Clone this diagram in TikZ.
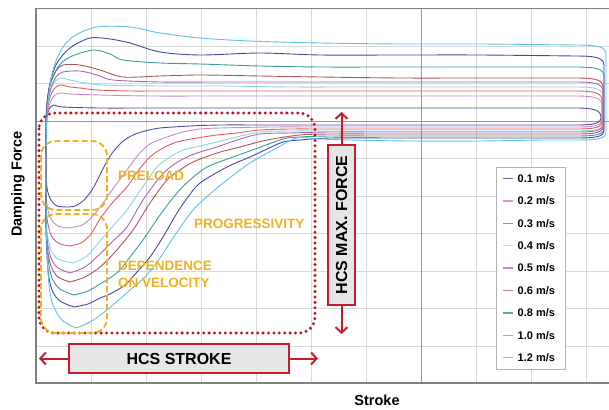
\documentclass[tikz,border=0pt]{standalone}
\usepackage{fontspec}
\setmainfont{Liberation Sans}
\usetikzlibrary{arrows.meta}
\definecolor{zred}{HTML}{C41E2C}
\definecolor{zdot}{HTML}{C0101E}
\definecolor{zyel}{HTML}{F2B020}
\definecolor{boxgray}{HTML}{E6E6E6}
\definecolor{c01}{HTML}{4E4EA2}
\definecolor{c02}{HTML}{C88AC8}
\definecolor{c03}{HTML}{E85A5C}
\definecolor{c04}{HTML}{8CD4E0}
\definecolor{c05}{HTML}{A865B8}
\definecolor{c06}{HTML}{B05458}
\definecolor{c08}{HTML}{3A9C9A}
\definecolor{c10}{HTML}{4848A0}
\definecolor{c12}{HTML}{5CC2E8}
\definecolor{l01}{HTML}{6464B4}
\definecolor{l02}{HTML}{D496D4}
\definecolor{l03}{HTML}{F07474}
\definecolor{l04}{HTML}{B4E2EA}
\definecolor{l05}{HTML}{C888D4}
\definecolor{l06}{HTML}{D47C7C}
\definecolor{l08}{HTML}{5AAAAA}
\definecolor{l10}{HTML}{A4A4DC}
\definecolor{l12}{HTML}{74CCEC}
\tikzset{
  gridline/.style={draw=black!15, line width=0.6pt},
  majorline/.style={draw=black!40, line width=1pt},
  framepen/.style={draw=black!50, line width=1.3pt},
  curve/.style={line width=0.9pt, line join=round},
  redzone/.style={draw=zdot, line width=3.3pt, line cap=round, dash pattern=on 0pt off 5.4pt, rounded corners=16pt},
  yelzone/.style={draw=zyel, line width=1.9pt, dash pattern=on 6pt off 3pt, rounded corners=15pt},
  yeltext/.style={text=zyel, font=\bfseries\fontsize{13.5}{17}\selectfont, align=left, inner sep=0pt},
  hcsbox/.style={draw=zred, fill=boxgray, line width=2pt, inner sep=0pt, font=\bfseries\fontsize{16}{18}\selectfont},
  hcsarrow/.style={draw=zred, line width=2pt, -{Straight Barb[length=5.5pt,width=12pt]}},
  legtext/.style={anchor=west, font=\bfseries\fontsize{11}{12}\selectfont, inner sep=0pt},
  axislabel/.style={font=\bfseries\fontsize{14.5}{16}\selectfont, inner sep=0pt},
}
% #1 colour, #2 upper points (min ... (575,yt)), #3 yt, #4 yb, #5 x of right drop, #6 lower points (... min)
\newcommand{\loopcurve}[6]{%
  \draw[curve,#1] plot[smooth,tension=0.5] coordinates {#2}
    .. controls ({#5-6},#3) and (#5,{#3+2}) .. (#5,{#3+10})
    -- (#5,{#4-8}) .. controls (#5,{#4-1}) and ({#5-8},#4) .. (575,#4)
    -- plot[smooth,tension=0.5] coordinates {#6};}
\begin{document}
\begin{tikzpicture}[x=1pt,y=-1pt]
\useasboundingbox (0,0) rectangle (609,409);
% grid
\foreach \gx in {91,146,201,256,311,366,476,531,586}
  \draw[gridline] (\gx,8.5) -- (\gx,383);
\foreach \gy in {46,83.5,158.5,196,233.5,271,308.5,346}
  \draw[gridline] (36,\gy) -- (609,\gy);
\draw[majorline] (421,8.5) -- (421,383);
\draw[majorline] (36,121) -- (609,121);
\draw[framepen] (609,8.5) -- (36,8.5) -- (36,383) -- (609,383);
% curves
\loopcurve{c01}{(68,207) (57,206) (51,200) (47,188) (46,165) (46,140) (47,118) (49,109) (54,105) (62,107) (100,108) (150,108) (220,108) (290,108) (360,108) (440,108) (510,108) (575,108)}{108}{125}{601}
 {(540,125) (470,125) (400,125) (330,125) (270,125) (220,125) (190,126) (160,128) (145,131) (133,135) (122,142) (113,152) (106,163) (100,175) (92,190) (83,201) (75,206) (68,207)}
\loopcurve{c02}{(69,228) (58,226) (51,219) (47,205) (46,180) (46,150) (46,125) (47,115) (50,103) (54,96) (60,93) (70,94) (100,95) (150,96) (220,96) (290,96) (360,96) (440,96) (510,96) (575,96)}{96}{127}{602}
 {(540,127) (470,127) (400,127) (330,127) (270,127) (220,128) (200,129) (183,132) (167,137) (150,144) (138,155) (127,170) (115,186) (103,203) (92,217) (82,225) (69,228)}
\loopcurve{c03}{(69,246) (58,243) (51,235) (47,218) (46,190) (46,150) (46,125) (47,112) (50,97) (54,89) (60,85) (70,87) (80,88) (97,90) (130,91) (160,91) (220,91) (290,91) (360,91) (440,91) (510,91) (575,91)}{91}{129}{602}
 {(540,129) (470,129) (400,129) (330,129) (290,129) (260,130) (237,133) (217,135) (197,138) (177,142) (163,148) (150,157) (138,171) (127,187) (113,202) (100,219) (91,234) (81,243) (69,246)}
\loopcurve{c04}{(73,263) (58,259) (51,250) (47,232) (46,200) (46,160) (46,125) (47,110) (50,92) (54,83) (60,78) (70,80) (80,82) (103,85) (160,86) (220,86) (290,87) (360,87) (440,87) (510,87) (575,87)}{87}{131}{603}
 {(540,131) (470,131) (400,131) (330,131) (290,131) (260,132) (237,137) (217,142) (200,146) (183,150) (170,157) (157,167) (142,188) (127,210) (113,226) (100,241) (87,256) (73,263)}
\loopcurve{c05}{(70,273) (58,268) (51,258) (47,238) (46,205) (46,160) (46,125) (47,105) (51,88) (56,77) (63,72) (80,71) (97,75) (113,80) (160,82) (220,82) (290,82) (360,82) (440,82) (510,82) (575,82)}{82}{132}{603}
 {(540,132) (470,132) (400,132) (330,132) (290,133) (260,134) (237,140) (217,147) (200,152) (187,157) (173,165) (160,177) (143,200) (127,227) (113,241) (100,254) (85,267) (70,273)}
\loopcurve{c06}{(70,282) (58,277) (51,266) (47,245) (46,210) (46,160) (46,125) (47,105) (50,85) (56,71) (63,65) (80,65) (100,70) (123,77) (160,76) (200,75) (260,76) (320,77) (400,78) (480,78) (575,78)}{78}{134}{603}
 {(540,134) (470,134) (400,134) (330,134) (300,135) (267,140) (240,147) (217,153) (193,162) (180,170) (167,180) (150,203) (133,230) (115,252) (100,267) (85,277) (70,282)}
\loopcurve{c08}{(74,295) (60,289) (52,278) (48,258) (46,220) (46,170) (46,130) (47,105) (50,85) (58,67) (70,57) (93,50) (110,54) (123,60) (160,63) (200,64) (260,66) (320,67) (400,67) (480,67) (575,67)}{67}{136}{604}
 {(540,136) (470,136) (400,136) (330,136) (300,137) (283,139) (258,148) (233,157) (207,167) (190,180) (177,193) (160,215) (143,240) (130,257) (120,270) (110,278) (100,284) (88,291) (74,295)}
\loopcurve{c10}{(74,307) (60,301) (52,290) (48,270) (46,230) (46,180) (46,140) (47,105) (50,83) (57,63) (70,48) (90,38) (110,39) (130,43) (160,52) (200,55) (260,53) (320,55) (400,55) (480,55) (575,56)}{56}{138}{604}
 {(540,138) (470,138) (400,138) (330,138) (300,140) (283,142) (265,150) (250,157) (227,167) (200,183) (188,197) (177,213) (163,237) (150,257) (137,272) (125,285) (110,294) (100,298) (88,304) (74,307)}
\loopcurve{c12}{(76,328) (62,320) (53,305) (49,285) (47,250) (46,200) (46,150) (47,115) (49,92) (53,70) (61,50) (74,36) (97,27) (130,27) (160,33) (200,38) (250,41) (320,43) (400,44) (480,44) (575,45)}{45}{140}{606}
 {(540,140) (480,141) (410,141) (350,140) (320,139) (297,138) (273,150) (250,163) (227,180) (210,194) (193,210) (175,235) (160,258) (145,277) (130,290) (107,310) (90,322) (76,328)}
% annotation zones
\draw[redzone] (39,113) rectangle (315,333);
\draw[yelzone] (41,141) rectangle (107,210);
\draw[yelzone] (41,214) rectangle (107,333);
\node[yeltext, anchor=west] (preload) at (118,176) {PRELOAD};
\node[yeltext, anchor=west] (progr) at (194,224) {PROGRESSIVITY};
\node[yeltext, anchor=north west] (dep) at (118,261) {DEPENDENCE\\ON VELOCITY};
% HCS stroke
\node[hcsbox, minimum width=220pt, minimum height=29pt] (stroke) at (179,358.5) {HCS STROKE};
\coordinate (strokeL) at (39,358.5);
\coordinate (strokeR) at (318,358.5);
\draw[hcsarrow] (stroke.west) -- (strokeL);
\draw[hcsarrow] (stroke.east) -- (strokeR);
% HCS max force
\node[hcsbox, minimum width=160pt, minimum height=27pt, rotate=90] (force) at (341.5,225) {HCS MAX. FORCE};
\coordinate (forceT) at (341.5,112);
\coordinate (forceB) at (341.5,334);
\draw[hcsarrow] (force.east) -- (forceT);
\draw[hcsarrow] (force.west) -- (forceB);
% legend
\node[draw=black!30, fill=white, line width=0.9pt, minimum width=69pt, minimum height=202pt, inner sep=0pt] (legend) at (530.5,268) {};
\foreach \i/\v/\col in {0/0.1/l01,1/0.2/l02,2/0.3/l03,3/0.4/l04,4/0.5/l05,5/0.6/l06,6/0.8/l08,7/1.0/l10,8/1.2/l12}{
  \pgfmathsetmacro{\ly}{178.5+22.4*\i}
  \draw[\col, line width=1.3pt] (503,\ly) -- (513,\ly);
  \node[legtext] (leg\i) at (517.5,\ly) {\v\ m/s};
}
% axis labels
\node[axislabel, rotate=90] (ylab) at (18,184) {Damping Force};
\node[axislabel] (xlab) at (377,400) {Stroke};
\end{tikzpicture}
\end{document}
